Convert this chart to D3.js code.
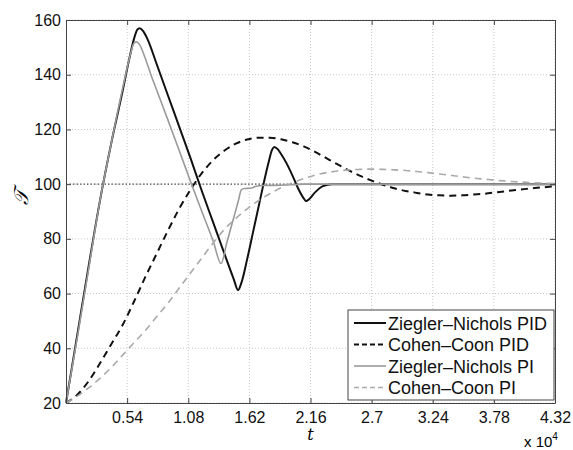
<!DOCTYPE html>
<html>
<head>
<meta charset="utf-8">
<script src="https://cdn.jsdelivr.net/npm/d3@7"></script>
<style>
  body { margin: 0; background: #fff; }
  text { font-family: "Liberation Sans", Arial, sans-serif; }
</style>
</head>
<body>
<div id="chart"></div>
<script>
// time samples (s) and temperature values
const znPidT = [0,1000,2000,3000,4000,5000,5600,6000,6300,6500,6800,7200,8000,9000,10000,11000,12000,13000,14000,14800,15200,15500,16000,16500,17000,17500,17900,18200,18400,18700,19000,19500,20000,20500,21000,21200,21500,22000,22700,23500,43200];
const znPidV = [20,45,70,94,115,134,146,153,156.5,157,156,153,144,132.5,121,109.5,97.5,86,74.5,65.5,61.3,64,72.5,82,91.5,101,108,112.5,113.6,112.8,111,107.5,103.2,98.5,94.8,93.8,94.6,97,99.3,100,100];

const ccPidT = [0,1000,2000,3000,4000,5000,6000,7000,8000,9000,10000,11000,12000,13000,14000,15000,16000,17000,18000,19000,20000,21000,22000,23000,24000,25000,26000,27000,28000,29000,30000,31000,32000,33000,34000,35000,36000,37000,38000,39000,40000,41000,42000,43200];
const ccPidV = [20,23,28,34.5,41.5,48.5,57,66,74.5,83,91,98,104,108.8,112.3,114.8,116.3,117,117,116.4,115.3,113.8,111.8,109.5,107.2,105,103,101.3,99.8,98.5,97.5,96.8,96.2,95.9,95.8,95.9,96.2,96.5,97,97.5,98,98.4,98.8,99.2];

const znPiT = [0,1000,2000,3000,4000,5000,5600,6000,6200,6500,7000,7500,8000,9000,10000,11000,12000,13000,13700,14200,14700,15200,15500,15800,16300,16800,17500,19000,21000,43200];
const znPiV = [20,44,69,94,115,135,146,151.5,152,151,146,140,134.5,123.5,112.3,101,90,79.2,71,78.5,86,93.5,98,98.4,98.5,99.2,99.5,99.6,100,100];

const ccPiT = [0,1000,2000,3000,4000,5000,6000,7000,8000,9000,10000,11000,12000,13000,14000,15000,16000,17000,18000,19000,20000,21000,22000,23000,24000,25000,26000,27000,28000,29000,30000,31000,32000,33000,34000,35000,36000,37000,38000,39000,40000,41000,42000,43200];
const ccPiV = [20,22.5,25.5,29,33,37.5,42,46.5,51.5,56.5,62,67.5,73,78.5,83.5,87.5,91,94,96.5,98.7,100.5,102,103.3,104.2,104.8,105.2,105.4,105.5,105.4,105.2,105,104.6,104.2,103.7,103.2,102.7,102.2,101.8,101.4,101.1,100.8,100.6,100.4,100.2];

const setpointT = [0,43200];
const setpointV = [100,100];

const xTicks = [5400,10800,16200,21600,27000,32400,37800,43200];
const xTickLabels = ["0.54","1.08","1.62","2.16","2.7","3.24","3.78","4.32"];
const yTicks = [20,40,60,80,100,120,140,160];

const seriesNames = ["Ziegler\u2013Nichols PID","Cohen\u2013Coon PID","Ziegler\u2013Nichols PI","Cohen\u2013Coon PI"];

const series = [
  {name: seriesNames[0], t: znPidT, v: znPidV, color: "#111", width: 2, dash: null},
  {name: seriesNames[1], t: ccPidT, v: ccPidV, color: "#111", width: 2, dash: "7,5"},
  {name: seriesNames[2], t: znPiT, v: znPiV, color: "#9a9a9a", width: 1.6, dash: null},
  {name: seriesNames[3], t: ccPiT, v: ccPiV, color: "#aaaaaa", width: 1.6, dash: "7,5"}
];

const W = 573, H = 450;
const margin = {top: 20, right: 18, bottom: 47, left: 66},
    width = W - margin.left - margin.right,
    height = H - margin.top - margin.bottom;

const svg = d3.select("#chart").append("svg")
  .attr("width", W).attr("height", H);

const g = svg.append("g")
  .attr("transform", `translate(${margin.left},${margin.top})`);

const x = d3.scaleLinear().domain([0,43200]).range([0,width]);
const y = d3.scaleLinear().domain([20,160]).range([height,0]);

// grid
g.append("g").selectAll("line").data(xTicks).join("line")
  .attr("x1", d=>x(d)).attr("x2", d=>x(d))
  .attr("y1", 0).attr("y2", height)
  .attr("stroke", "#c8c8c8").attr("stroke-width", 1)
  .attr("stroke-dasharray", "1,2");
g.append("g").selectAll("line").data(yTicks).join("line")
  .attr("x1", 0).attr("x2", width)
  .attr("y1", d=>y(d)).attr("y2", d=>y(d))
  .attr("stroke", "#c8c8c8").attr("stroke-width", 1)
  .attr("stroke-dasharray", "1,2");

// setpoint
const line = d3.line().curve(d3.curveMonotoneX);
g.append("path")
  .attr("d", line(setpointT.map((t,i)=>[x(t), y(setpointV[i])])))
  .attr("fill", "none").attr("stroke", "#555").attr("stroke-width", 1.2)
  .attr("stroke-dasharray", "1.5,2");

// curves
series.forEach(s=>{
  g.append("path")
    .attr("d", line(s.t.map((t,i)=>[x(t), y(s.v[i])])))
    .attr("fill", "none")
    .attr("stroke", s.color)
    .attr("stroke-width", s.width)
    .attr("stroke-dasharray", s.dash)
    .attr("stroke-linejoin", "round");
});

// axes (matlab style box, ticks inside)
const axB = d3.axisBottom(x).tickValues(xTicks).tickFormat((d,i)=>xTickLabels[i]).tickSizeInner(-5).tickSizeOuter(0).tickPadding(9);
const axT = d3.axisTop(x).tickValues(xTicks).tickFormat("").tickSizeInner(-5).tickSizeOuter(0);
const axL = d3.axisLeft(y).tickValues(yTicks).tickSizeInner(-5).tickSizeOuter(0).tickPadding(5);
const axR = d3.axisRight(y).tickValues(yTicks).tickFormat("").tickSizeInner(-5).tickSizeOuter(0);

[g.append("g").attr("transform", `translate(0,${height})`).call(axB),
 g.append("g").call(axT),
 g.append("g").call(axL),
 g.append("g").attr("transform", `translate(${width},0)`).call(axR)
].forEach(a=>{
  a.selectAll("path").attr("stroke", "#444");
  a.selectAll("line").attr("stroke", "#444");
  a.selectAll("text").attr("fill", "#111").style("font-size", "16px")
    .style("font-family", "'Liberation Sans', Arial, sans-serif");
});

// labels
g.append("text")
  .attr("x", x(21600)).attr("y", height + 37)
  .attr("text-anchor", "middle")
  .style("font-family", "'DejaVu Serif', serif").style("font-style", "italic")
  .style("font-size", "16px").text("t");

svg.append("text")
  .attr("transform", `translate(28,${margin.top + y(95)}) rotate(-90)`)
  .attr("text-anchor", "middle")
  .style("font-family", "'DejaVu Serif', serif").style("font-style", "italic")
  .style("font-size", "20px").text("\uD835\uDCAF");

const expo = svg.append("text").attr("x", 524).attr("y", 447)
  .style("font-size", "15px");
expo.append("tspan").text("x 10");
expo.append("tspan").attr("dy", -7).style("font-size", "10px").text("4");

// legend
const lg = g.append("g").attr("transform", `translate(${width-207},${height-93})`);
lg.append("rect").attr("width", 206).attr("height", 90)
  .attr("fill", "#fff").attr("stroke", "#444").attr("stroke-width", 1);
series.forEach((s,i)=>{
  const yy = 13 + i*21.5;
  lg.append("line").attr("x1", 6).attr("x2", 38).attr("y1", yy).attr("y2", yy)
    .attr("stroke", s.color).attr("stroke-width", s.width)
    .attr("stroke-dasharray", s.dash ? "5,3" : null);
  lg.append("text").attr("x", 40).attr("y", yy + 6.5)
    .style("font-size", "18px").attr("fill", "#111").text(s.name);
});
</script>
</body>
</html>
